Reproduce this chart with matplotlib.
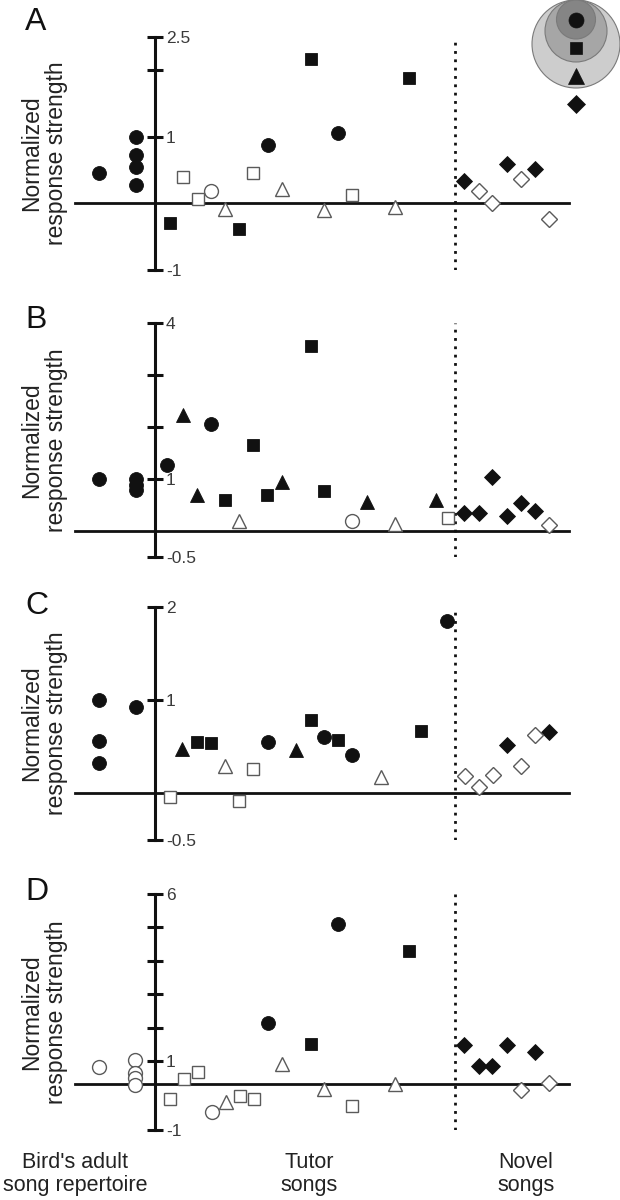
import matplotlib
matplotlib.use("Agg")
import matplotlib.pyplot as plt
from matplotlib.patches import Circle

plt.rcParams['font.family'] = ['Liberation Sans', 'DejaVu Sans']

# ---------------- data (x = song slot, y = normalized response strength) -------------
# Panel A
A_CIRC_F_X = [-3.97, -1.36, -1.36, -1.36, -1.36, 8.07, 13.12]
A_CIRC_F_Y = [0.46, 1.00, 0.72, 0.55, 0.27, 0.87, 1.05]
A_CIRC_O_X = [4.05]
A_CIRC_O_Y = [0.19]
A_SQ_F_X = [1.13, 6.03, 11.19, 18.13]
A_SQ_F_Y = [-0.29, -0.39, 2.16, 1.88]
A_SQ_O_X = [2.04, 3.12, 7.03, 14.11]
A_SQ_O_Y = [0.39, 0.06, 0.45, 0.12]
A_TRI_F_X = []
A_TRI_F_Y = []
A_TRI_O_X = [5.04, 9.12, 12.12, 17.14]
A_TRI_O_Y = [-0.09, 0.21, -0.10, -0.05]
A_DIA_F_X = [22.10, 25.13, 27.14]
A_DIA_F_Y = [0.34, 0.59, 0.52]
A_DIA_O_X = [23.14, 24.08, 26.12, 28.13]
A_DIA_O_Y = [0.18, 0.00, 0.36, -0.24]

# Panel B
B_CIRC_F_X = [-3.97, -1.36, -1.36, -1.36, 0.91, 4.05]
B_CIRC_F_Y = [1.00, 1.00, 0.90, 0.80, 1.27, 2.07]
B_CIRC_O_X = [14.11]
B_CIRC_O_Y = [0.20]
B_SQ_F_X = [5.04, 7.03, 8.02, 11.19, 12.12]
B_SQ_F_Y = [0.61, 1.66, 0.70, 3.57, 0.78]
B_SQ_O_X = [20.96]
B_SQ_O_Y = [0.25]
B_TRI_F_X = [2.04, 3.06, 9.07, 15.16, 20.11]
B_TRI_F_Y = [2.24, 0.70, 0.94, 0.56, 0.61]
B_TRI_O_X = [6.03, 17.14]
B_TRI_O_Y = [0.20, 0.15]
B_DIA_F_X = [22.10, 23.14, 24.08, 25.13, 26.12, 27.14]
B_DIA_F_Y = [0.35, 0.35, 1.05, 0.29, 0.55, 0.40]
B_DIA_O_X = [28.13]
B_DIA_O_Y = [0.13]

# Panel C
C_CIRC_F_X = [-3.97, -3.97, -3.97, -1.36, 8.07, 12.12, 14.11, 20.88]
C_CIRC_F_Y = [1.00, 0.56, 0.33, 0.93, 0.55, 0.60, 0.41, 1.85]
C_CIRC_O_X = []
C_CIRC_O_Y = []
C_SQ_F_X = [3.06, 4.05, 11.13, 13.12, 19.04]
C_SQ_F_Y = [0.55, 0.54, 0.79, 0.57, 0.67]
C_SQ_O_X = [1.08, 6.03, 7.03]
C_SQ_O_Y = [-0.04, -0.08, 0.26]
C_TRI_F_X = [1.98, 10.06]
C_TRI_F_Y = [0.48, 0.46]
C_TRI_O_X = [5.04, 16.15]
C_TRI_O_Y = [0.29, 0.17]
C_DIA_F_X = [25.13, 28.13]
C_DIA_F_Y = [0.52, 0.66]
C_DIA_O_X = [22.15, 23.14, 24.14, 26.12, 27.14]
C_DIA_O_Y = [0.19, 0.07, 0.20, 0.29, 0.63]

# Panel D
D_CIRC_F_X = [8.07, 13.12]
D_CIRC_F_Y = [1.84, 4.79]
D_CIRC_O_X = [-3.97, -1.40, -1.40, -1.40, -1.40, 4.10]
D_CIRC_O_Y = [0.50, 0.72, 0.32, 0.17, -0.03, -0.83]
D_SQ_F_X = [11.19, 18.13]
D_SQ_F_Y = [1.19, 3.98]
D_SQ_O_X = [1.10, 2.10, 3.10, 6.10, 7.10, 14.11]
D_SQ_O_Y = [-0.46, 0.14, 0.37, -0.36, -0.46, -0.66]
D_TRI_F_X = []
D_TRI_F_Y = []
D_TRI_O_X = [5.10, 9.12, 12.12, 17.14]
D_TRI_O_Y = [-0.53, 0.60, -0.16, 0.00]
D_DIA_F_X = [22.10, 23.14, 24.08, 25.13, 27.14]
D_DIA_F_Y = [1.16, 0.54, 0.54, 1.16, 0.96]
D_DIA_O_X = [26.12, 28.13]
D_DIA_O_Y = [-0.18, 0.04]

# axis ticks
A_YTICKS = [2.5, 2, 1, -1]
A_YLABELS = ['2.5', '', '1', '-1']
B_YTICKS = [4, 3, 2, 1, -0.5]
B_YLABELS = ['4', '', '', '1', '-0.5']
C_YTICKS = [2, 1, -0.5]
C_YLABELS = ['2', '1', '-0.5']
D_YTICKS = [5.69, 4.69, 3.69, 2.69, 1.69, 0.69, -1.38]
D_YLABELS = ['6', '', '', '', '', '1', '-1']

PANEL_LETTERS = ['A', 'B', 'C', 'D']
YLABEL = 'Normalized\nresponse strength'
GROUP_LABELS = ["Bird's adult\nsong repertoire", 'Tutor\nsongs', 'Novel\nsongs']
DIVIDER_X = 21.45

# legend inset (nested song categories)
LEGEND_SYMBOLS = ['o', 's', '^', 'D']
LEGEND_RING_RADII = [44, 31, 19.5]
LEGEND_RING_COLORS = ['#cdcdcd', '#a6a6a6', '#858585']

# ---------------- figure ----------------
W, H = 620, 1200
fig = plt.figure(figsize=(W / 100, H / 100), dpi=100)

XMIN, XMAX = -5.65, 29.6
left = 75.4 / W
width = 494 / W
# (top px, bottom px) of each panel's y-axis
panel_px = [(36.7, 270.0), (323.3, 557.3), (606.7, 840.0), (894.0, 1130.0)]
ylims = [(-1, 2.5), (-0.5, 4), (-0.5, 2), (-1.38, 5.69)]
ticks = [(A_YTICKS, A_YLABELS), (B_YTICKS, B_YLABELS), (C_YTICKS, C_YLABELS), (D_YTICKS, D_YLABELS)]
letter_baselines = [30, 328, 614, 900]

panels = [
    dict(cf=(A_CIRC_F_X, A_CIRC_F_Y), co=(A_CIRC_O_X, A_CIRC_O_Y), sf=(A_SQ_F_X, A_SQ_F_Y), so=(A_SQ_O_X, A_SQ_O_Y),
         tf=(A_TRI_F_X, A_TRI_F_Y), to=(A_TRI_O_X, A_TRI_O_Y), df=(A_DIA_F_X, A_DIA_F_Y), do=(A_DIA_O_X, A_DIA_O_Y)),
    dict(cf=(B_CIRC_F_X, B_CIRC_F_Y), co=(B_CIRC_O_X, B_CIRC_O_Y), sf=(B_SQ_F_X, B_SQ_F_Y), so=(B_SQ_O_X, B_SQ_O_Y),
         tf=(B_TRI_F_X, B_TRI_F_Y), to=(B_TRI_O_X, B_TRI_O_Y), df=(B_DIA_F_X, B_DIA_F_Y), do=(B_DIA_O_X, B_DIA_O_Y)),
    dict(cf=(C_CIRC_F_X, C_CIRC_F_Y), co=(C_CIRC_O_X, C_CIRC_O_Y), sf=(C_SQ_F_X, C_SQ_F_Y), so=(C_SQ_O_X, C_SQ_O_Y),
         tf=(C_TRI_F_X, C_TRI_F_Y), to=(C_TRI_O_X, C_TRI_O_Y), df=(C_DIA_F_X, C_DIA_F_Y), do=(C_DIA_O_X, C_DIA_O_Y)),
    dict(cf=(D_CIRC_F_X, D_CIRC_F_Y), co=(D_CIRC_O_X, D_CIRC_O_Y), sf=(D_SQ_F_X, D_SQ_F_Y), so=(D_SQ_O_X, D_SQ_O_Y),
         tf=(D_TRI_F_X, D_TRI_F_Y), to=(D_TRI_O_X, D_TRI_O_Y), df=(D_DIA_F_X, D_DIA_F_Y), do=(D_DIA_O_X, D_DIA_O_Y)),
]

BLACK = '#111111'
OPEN_EDGE = '#5a5a5a'
marker_spec = {
    'c': ('o', 10.0), 's': ('s', 8.0), 't': ('^', 9.8), 'd': ('D', 7.8),
}

for i, p in enumerate(panels):
    top_px, bot_px = panel_px[i]
    ax = fig.add_axes([left, 1 - bot_px / H, width, (bot_px - top_px) / H])
    ax.patch.set_alpha(0)
    ax.set_xlim(XMIN, XMAX)
    ax.set_ylim(*ylims[i])
    ax.spines['top'].set_visible(False)
    ax.spines['left'].set_visible(False)
    ax.spines['right'].set_position(('data', 0))
    ax.spines['bottom'].set_position(('data', 0))
    ax.spines['right'].set_linewidth(2.2)
    ax.spines['bottom'].set_linewidth(2.0)
    ax.spines['right'].set_color(BLACK)
    ax.spines['bottom'].set_color(BLACK)
    ax.yaxis.set_ticks_position('right')
    tpos, tlab = ticks[i]
    ax.set_yticks(tpos)
    ax.set_yticklabels(tlab)
    ax.tick_params(axis='y', direction='inout', length=11.3, width=2.2, pad=2.5,
                   labelsize=12.5, labelcolor='#3a3a3a', color=BLACK)
    ax.set_xticks([])

    ax.axvline(DIVIDER_X, color=BLACK, lw=2.0, ls=(0, (1, 2)), zorder=2)

    for key, (xs, ys) in p.items():
        m, ms = marker_spec[key[0]]
        filled = key[1] == 'f'
        if filled:
            ax.plot(xs, ys, ls='none', marker=m, ms=ms, mfc=BLACK, mec=BLACK, mew=0.6,
                    zorder=4, clip_on=False)
        else:
            ax.plot(xs, ys, ls='none', marker=m, ms=ms, mfc='white', mec=OPEN_EDGE, mew=1.0,
                    zorder=4, clip_on=False)

    cy = 1 - (top_px + bot_px) / 2 / H
    fig.text(44 / W, cy, YLABEL, rotation=90, ha='center', va='center',
             multialignment='center', fontsize=16.5, color='#222222', linespacing=1.1)
    fig.text(25 / W, 1 - letter_baselines[i] / H, PANEL_LETTERS[i], ha='left', va='baseline',
             fontsize=23, color='#111111')

# group labels under the last panel
group_x = [75, 309, 526]
for gx, lab in zip(group_x, GROUP_LABELS):
    fig.text(gx / W, 1 - 1174 / H, lab, ha='center', va='center', fontsize=15.5,
             color='#222222', linespacing=1.15)

# legend inset: nested circles with category symbols
lx0, ly0, lw_, lh_ = 530, 0, 92, 116
iax = fig.add_axes([lx0 / W, 1 - (ly0 + lh_) / H, lw_ / W, lh_ / H])
iax.set_xlim(-46, 46)
iax.set_ylim(lh_, 0)
iax.axis('off')
for r, col in zip(LEGEND_RING_RADII, LEGEND_RING_COLORS):
    iax.add_patch(Circle((0, r), r, facecolor=col, edgecolor='#7a7a7a', lw=0.8))
leg_sizes = [10.8, 9.0, 12.0, 9.6]
for k, (m, ms) in enumerate(zip(LEGEND_SYMBOLS, leg_sizes)):
    iax.plot([0], [20 + 28 * k], ls='none', marker=m, ms=ms, mfc=BLACK, mec=BLACK,
             mew=0.5, clip_on=False)

fig.savefig('out.png', dpi=100)
